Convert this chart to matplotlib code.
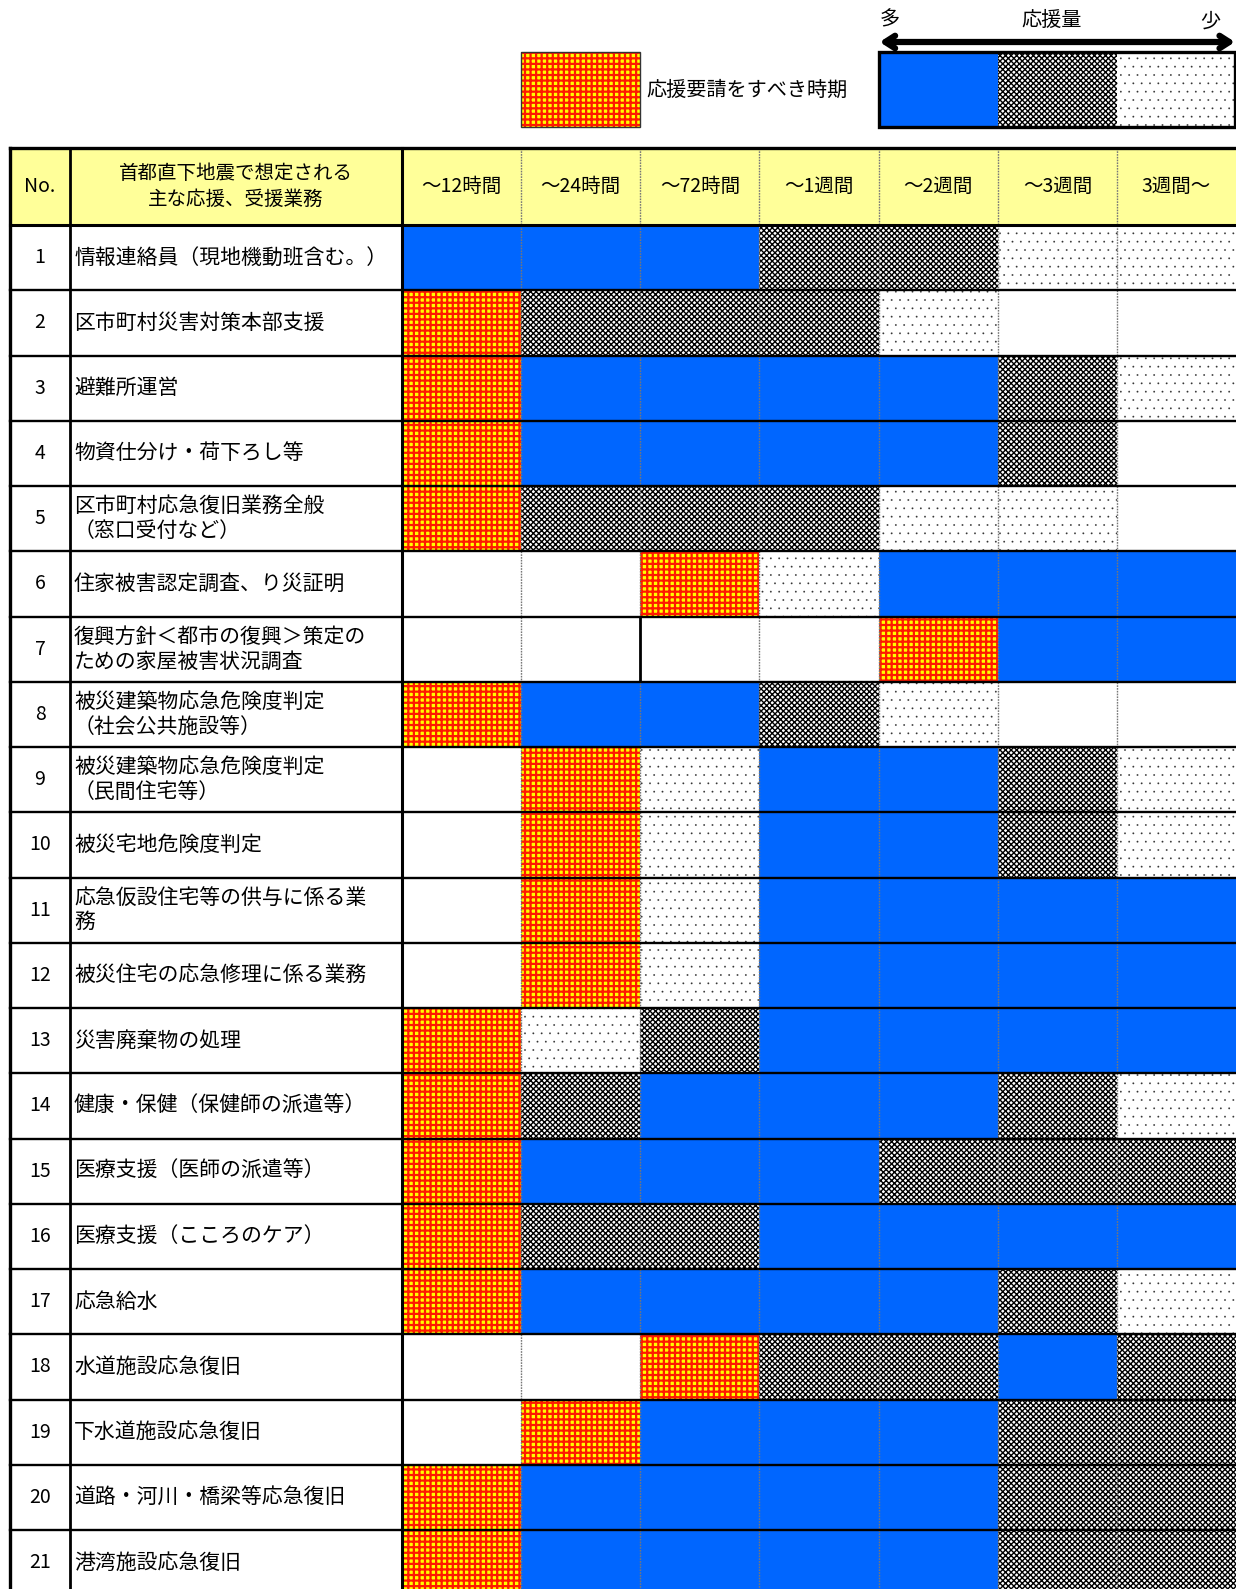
import matplotlib
matplotlib.use("Agg")
import matplotlib.pyplot as plt
from matplotlib.patches import Rectangle

plt.rcParams['font.family'] = ['Noto Sans CJK JP', 'DejaVu Sans']

# ---------------- data ----------------
periods = ["～12時間", "～24時間", "～72時間", "～1週間", "～2週間", "～3週間", "3週間～"]
header_no = "No."
header_task = "首都直下地震で想定される\n主な応援、受援業務"
task_numbers = list(range(1, 22))
tasks = [
    "情報連絡員（現地機動班含む。）",
    "区市町村災害対策本部支援",
    "避難所運営",
    "物資仕分け・荷下ろし等",
    "区市町村応急復旧業務全般\n（窓口受付など）",
    "住家被害認定調査、り災証明",
    "復興方針＜都市の復興＞策定の\nための家屋被害状況調査",
    "被災建築物応急危険度判定\n（社会公共施設等）",
    "被災建築物応急危険度判定\n（民間住宅等）",
    "被災宅地危険度判定",
    "応急仮設住宅等の供与に係る業\n務",
    "被災住宅の応急修理に係る業務",
    "災害廃棄物の処理",
    "健康・保健（保健師の派遣等）",
    "医療支援（医師の派遣等）",
    "医療支援（こころのケア）",
    "応急給水",
    "水道施設応急復旧",
    "下水道施設応急復旧",
    "道路・河川・橋梁等応急復旧",
    "港湾施設応急復旧",
]
# R = request period, B = large, G = medium, D = small, W = none
levels = [
    "BBBGGDD",
    "RGGGDWW",
    "RBBBBGD",
    "RBBBBGW",
    "RGGGDDW",
    "WWRDBBB",
    "WWWWRBB",
    "RBBGDWW",
    "WRDBBGD",
    "WRDBBGD",
    "WRDBBBB",
    "WRDBBBB",
    "RDGBBBB",
    "RGBBBGD",
    "RBBBGGG",
    "RGGBBBB",
    "RBBBBGD",
    "WWRGGBG",
    "WRBBBGG",
    "RBBBBGG",
    "RBBBBGG",
]
legend_request = "応援要請をすべき時期"
legend_scale = ["B", "G", "D"]
legend_more, legend_title, legend_less = "多", "応援量", "少"
solid_vlines = [(7, 2)]  # (row number, column index whose left edge is solid)

# ---------------- styles / layout ----------------
STYLES = {
    "B": dict(fc="#0066FF", hatch=None, hc=None, hlw=1.0),
    "R": dict(fc="#FFFF00", hatch="+++", hc="#FF1A00", hlw=1.6),
    "G": dict(fc="#FFFFFF", hatch="xxxxxx", hc="#000000", hlw=1.0),
    "D": dict(fc="#FFFFFF", hatch="..", hc="#333333", hlw=0.1),
    "W": dict(fc="#FFFFFF", hatch=None, hc=None, hlw=1.0),
}

W, H = 1236, 1589
X_LEFT, X_NO, X_TIME = 10, 70, 402
COL_W = 119.15
Y_TOP, Y_HEAD = 148, 225
ROW_H = 65.25

fig = plt.figure(figsize=(W / 100, H / 100), dpi=100)
ax = fig.add_axes([0, 0, 1, 1])
ax.set_xlim(0, W)
ax.set_ylim(H, 0)
ax.axis("off")


def cell(x, y, w, h, code, z=1):
    st = STYLES[code]
    kw = dict(facecolor=st["fc"], linewidth=0, zorder=z)
    if st["hatch"]:
        kw["hatch"] = st["hatch"]
        kw["edgecolor"] = st["hc"]
    else:
        kw["edgecolor"] = st["fc"]
    p = Rectangle((x, y), w, h, **kw)
    if st["hatch"] and hasattr(p, "set_hatch_linewidth"):
        p.set_hatch_linewidth(st["hlw"])
    ax.add_patch(p)
    return p


n_rows = len(tasks)
n_cols = len(periods)
x_right = X_TIME + n_cols * COL_W
y_bottom = Y_HEAD + n_rows * ROW_H

# header background
ax.add_patch(Rectangle((X_LEFT, Y_TOP), x_right - X_LEFT, Y_HEAD - Y_TOP,
                       facecolor="#FFFF99", edgecolor="none", zorder=0))
ax.add_patch(Rectangle((X_LEFT, Y_HEAD), x_right - X_LEFT, y_bottom - Y_HEAD,
                       facecolor="white", edgecolor="none", zorder=0))

y_hc = (Y_TOP + Y_HEAD) / 2
ax.text((X_LEFT + X_NO) / 2, y_hc, header_no, ha="center", va="center", fontsize=14)
ax.text((X_NO + X_TIME) / 2, y_hc, header_task, ha="center", va="center",
        fontsize=14, linespacing=1.35)
for j, lab in enumerate(periods):
    ax.text(X_TIME + (j + 0.5) * COL_W, y_hc, lab, ha="center", va="center", fontsize=14)

# body cells
for i, (num, task, lev) in enumerate(zip(task_numbers, tasks, levels)):
    y0 = Y_HEAD + i * ROW_H
    yc = y0 + ROW_H / 2
    ax.text((X_LEFT + X_NO) / 2, yc, str(num), ha="center", va="center", fontsize=14)
    ax.text(X_NO + 4, yc, task, ha="left", va="center", fontsize=15, linespacing=1.15)
    for j, code in enumerate(lev):
        cell(X_TIME + j * COL_W, y0, COL_W, ROW_H, code)

# dotted vertical lines between time columns
for i in range(-1, n_rows):
    y0 = Y_TOP if i < 0 else Y_HEAD + i * ROW_H
    y1 = Y_HEAD if i < 0 else y0 + ROW_H
    for j in range(1, n_cols):
        xv = X_TIME + j * COL_W
        if (i + 1, j) in solid_vlines:
            ax.plot([xv, xv], [y0, y1], color="black", lw=2.0, zorder=5, solid_capstyle="butt")
        else:
            ax.plot([xv, xv], [y0, y1], color="#777777", lw=1.0,
                    ls=(0, (1.2, 0.8)), zorder=5)

# horizontal lines
ax.plot([X_LEFT, x_right], [Y_TOP, Y_TOP], color="black", lw=2.4, zorder=6)
ax.plot([X_LEFT, x_right], [Y_HEAD, Y_HEAD], color="black", lw=2.2, zorder=6)
for i in range(1, n_rows + 1):
    yh = Y_HEAD + i * ROW_H
    ax.plot([X_LEFT, x_right], [yh, yh], color="black", lw=1.7, zorder=6)
# main verticals
for xv, lw in [(X_LEFT, 2.4), (X_NO, 2.0), (X_TIME, 2.2)]:
    ax.plot([xv, xv], [Y_TOP, y_bottom], color="black", lw=lw, zorder=6)

# ---------------- legend ----------------
LEG_Y0, LEG_Y1 = 52, 127
# request legend
cell(X_TIME + COL_W, LEG_Y0, COL_W, LEG_Y1 - LEG_Y0, "R")
ax.add_patch(Rectangle((X_TIME + COL_W, LEG_Y0), COL_W, LEG_Y1 - LEG_Y0,
                       facecolor="none", edgecolor="#333333", lw=1.0, zorder=3))
ax.text(X_TIME + 2 * COL_W + 6, (LEG_Y0 + LEG_Y1) / 2 + 1, legend_request,
        ha="left", va="center", fontsize=14.5)

# scale legend
lx0 = X_TIME + 4 * COL_W
for k, code in enumerate(legend_scale):
    cell(lx0 + k * COL_W, LEG_Y0, COL_W, LEG_Y1 - LEG_Y0, code)
ax.add_patch(Rectangle((lx0, LEG_Y0), 3 * COL_W - 1.5, LEG_Y1 - LEG_Y0,
                       facecolor="none", edgecolor="black", lw=2.4, zorder=3))
ax.annotate("", xy=(W - 1, 42), xytext=(lx0 + 1, 42),
            arrowprops=dict(arrowstyle="<->,head_length=0.7,head_width=0.45",
                            lw=4.5, color="black", shrinkA=0, shrinkB=0))
ax.text(lx0 + 11, 20, legend_more, ha="center", va="center", fontsize=14.5)
ax.text(lx0 + 1.45 * COL_W, 20, legend_title, ha="center", va="center", fontsize=14.5)
ax.text(W - 26, 22, legend_less, ha="center", va="center", fontsize=14.5)

fig.savefig("out.png", dpi=100)
